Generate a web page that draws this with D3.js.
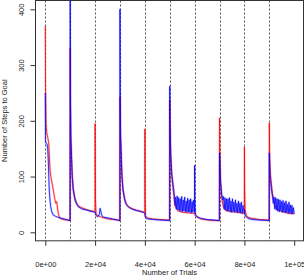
<!DOCTYPE html>
<html>
<head>
<meta charset="utf-8">
<script src="https://cdn.jsdelivr.net/npm/d3@7"></script>
<style>
  body { margin: 0; background: #fff; }
  svg { display: block; font-family: "Liberation Sans", Arial, sans-serif; }
</style>
</head>
<body>
<div id="chart"></div>
<script>
// trial boundaries where the goal moves
const boundaries = [0, 10000, 20000, 30000, 40000, 50000, 60000, 70000, 80000, 90000];
const xTicks = [0, 20000, 40000, 60000, 80000, 100000];
const xTickLabels = ["0e+00", "2e+04", "4e+04", "6e+04", "8e+04", "1e+05"];
const yTicks = [0, 100, 200, 300, 400];

// [trial, steps]
const redSeries = [
  [0,370],[100,260],[300,195],[600,178],[1000,170],[1370,160],[1650,135],[1890,112],[2300,98],[2800,86],
  [3210,76],[3600,65],[3900,58],[4200,52],[4580,55],[4900,44],[5220,34],[5600,28],[5900,25],[7000,23],[8500,22],[9950,21],
  [10000,330],[10100,240],[10250,175],[10560,135],[10800,105],[11200,80],[11900,62],[12500,54],[13200,48],[14200,45],
  [15200,43],[16500,41],[17900,39],[19000,38],[19950,37],
  [20000,195],[20150,60],[20400,33],[21000,30],[22000,28],[23500,26],[25000,24],[27000,23],[29000,22],[29950,21],
  [30000,243],[30100,210],[30250,170],[30560,132],[30800,102],[31200,78],[31900,60],[32500,52],[33200,47],[34200,44],
  [35200,42],[36500,40],[37900,38],[39000,37],[39950,36],
  [40000,185],[40100,60],[40300,30],[41000,26],[43000,24],[46000,23],[49950,22],
  [50000,237],[50100,190],[50400,135],[50800,100],[51500,72],[52000,50],[52600,42],[53500,38],[55000,36],[57000,35],[59950,34],
  [60000,35],[60300,30],[61000,27],[62500,24],[65000,22],[68000,21],[69950,21],
  [70000,205],[70150,150],[70400,95],[70880,61],[71480,46],[72200,40],[73500,38],[75000,37],[77000,36],[79950,34],
  [80000,153],[80100,80],[80300,40],[80800,30],[81500,27],[83000,25],[86000,23],[89950,22],
  [90000,196],[90150,140],[90400,105],[90800,89],[91200,70],[91600,61],[92200,48],[93000,42],[94500,38],[96000,36],[98000,34],[100000,33]
];

const blueSeries = [
  [0,250],[80,165],[300,160],[700,158],[950,150],[1200,130],[1400,100],[1600,76],[1900,57],[2170,46],[2600,37],
  [3210,31],[4000,29],[5000,27],[5900,26],[7500,24],[9240,22],[9950,21],
  [10000,430],[10100,250],[10250,170],[10560,130],[10800,100],[11200,76],[11900,58],[12500,51],[13200,46],[14200,43],
  [15200,41],[16500,40],[17900,38],[19000,37],[19950,36],
  [20000,36],[20400,30],[21000,28],[21700,32],[22000,43],[22300,38],[22700,30],[23500,27],[25000,26],[27000,24],[29000,22],[29950,21],
  [30000,400],[30100,260],[30250,175],[30560,130],[30800,100],[31200,76],[31900,58],[32500,50],[33200,46],[34200,43],
  [35200,41],[36500,39],[37900,38],[39000,36],[39950,35],
  [40000,30],[40300,26],[41000,24],[43000,23],[46000,22],[49950,21],
  [50000,262],[50100,200],[50400,140],[50800,106],[51500,80],[51900,64],[52200,48],[52400,63],[52700,42],[53000,65],
  [53300,40],[53600,62],[53900,39],[54200,60],[54500,38],[54800,64],[55100,37],[55400,58],[55700,38],[56000,63],
  [56300,37],[56600,56],[56900,36],[57200,61],[57500,37],[57800,58],[58100,36],[58400,60],[58700,35],[59000,55],
  [59300,36],[59600,58],[59950,36],
  [60000,120],[60080,60],[60300,32],[61000,28],[62500,25],[65000,23],[68000,22],[69950,21],
  [70000,142],[70150,120],[70400,90],[70880,68],[71300,58],[71600,64],[71900,42],[72200,62],[72500,40],[72800,60],
  [73100,38],[73400,60],[73700,39],[74000,62],[74300,37],[74600,56],[74900,36],[75200,60],[75500,38],[75800,54],
  [76100,36],[76400,58],[76700,37],[77000,52],[77300,35],[77600,56],[77900,36],[78200,52],[78500,35],[78800,54],
  [79100,34],[79400,48],[79950,35],
  [80000,40],[80200,32],[80600,28],[81500,25],[83000,23],[86000,22],[89950,21],
  [90000,142],[90150,120],[90400,95],[90800,80],[91300,64],[91600,52],[91900,63],[92200,42],[92500,62],[92800,40],
  [93100,60],[93400,38],[93700,59],[94000,37],[94300,58],[94600,39],[94900,55],[95200,36],[95500,57],[95800,37],
  [96100,53],[96400,35],[96700,56],[97000,36],[97300,50],[97600,34],[97900,54],[98200,35],[98500,49],[98800,33],
  [99100,48],[99400,34],[99700,44],[100000,33]
];

const width = 304, height = 277;
const box = { left: 35.5, right: 303.5, top: 0.5, bottom: 240.8 };

const svg = d3.select('#chart').append('svg')
    .attr('width', width)
    .attr('height', height);

const x = d3.scaleLinear().domain([0, 100000]).range([45.3, 294.2]);
const y = d3.scaleLinear().domain([0, 400]).range([232.3, 9.3]);

svg.append('clipPath').attr('id', 'plotclip')
  .append('rect')
    .attr('x', box.left).attr('y', box.top)
    .attr('width', box.right - box.left).attr('height', box.bottom - box.top);

// dashed lines at each goal change
svg.append('g').selectAll('line')
  .data(boundaries)
  .enter().append('line')
    .attr('x1', d => Math.round(x(d)) + 0.5)
    .attr('x2', d => Math.round(x(d)) + 0.5)
    .attr('y1', box.top)
    .attr('y2', box.bottom)
    .attr('stroke', '#555')
    .attr('stroke-width', 1)
    .attr('stroke-dasharray', '2,2');

const line = d3.line()
    .x(d => x(d[0]))
    .y(d => y(d[1]));

const plot = svg.append('g').attr('clip-path', 'url(#plotclip)');

[[redSeries, '#ff0000'], [blueSeries, '#0000ff']].forEach(([data, color]) => {
    plot.append('path')
        .attr('d', line(data))
        .attr('fill', 'none')
        .attr('stroke', color)
        .attr('stroke-opacity', 0.18)
        .attr('stroke-width', 2.2)
        .attr('stroke-linejoin', 'round');
    plot.append('path')
        .attr('d', line(data))
        .attr('fill', 'none')
        .attr('stroke', color)
        .attr('stroke-opacity', 0.85)
        .attr('stroke-width', 0.9)
        .attr('stroke-linejoin', 'round');
});

// box
svg.append('rect')
    .attr('x', box.left).attr('y', box.top)
    .attr('width', box.right - box.left).attr('height', box.bottom - box.top)
    .attr('fill', 'none')
    .attr('stroke', '#333')
    .attr('stroke-width', 1);

// axes
const xAxis = d3.axisBottom(x)
    .tickValues(xTicks)
    .tickSize(5)
    .tickFormat((d, i) => xTickLabels[i]);

const gx = svg.append('g')
    .attr('transform', `translate(0, ${box.bottom})`)
    .call(xAxis);
gx.select('.domain').remove();
gx.selectAll('.tick line').attr('stroke', '#333');
gx.selectAll('.tick text')
    .attr('font-size', '7.5px')
    .attr('fill', '#222')
    .attr('font-family', '"Liberation Sans", Arial, sans-serif')
    .attr('y', 26)
    .attr('dy', '0');

const yAxis = d3.axisLeft(y)
    .tickValues(yTicks)
    .tickSize(5)
    .tickFormat(d3.format('d'));

const gy = svg.append('g')
    .attr('transform', `translate(${box.left}, 0)`)
    .call(yAxis);
gy.select('.domain').remove();
gy.selectAll('.tick line').attr('stroke', '#333');
gy.selectAll('.tick text')
    .attr('font-size', '7.5px')
    .attr('fill', '#222')
    .attr('font-family', '"Liberation Sans", Arial, sans-serif')
    .attr('x', 0)
    .attr('dy', '0')
    .attr('text-anchor', 'middle')
    .attr('dominant-baseline', 'central')
    .attr('transform', 'translate(-13.8, 0) rotate(-90)');

// axis titles
svg.append('text')
    .attr('x', (box.left + box.right) / 2)
    .attr('y', 275)
    .attr('text-anchor', 'middle')
    .attr('font-size', '7.5px')
    .attr('fill', '#222')
    .text('Number of Trials');

svg.append('text')
    .attr('transform', `translate(6.5, ${(box.top + box.bottom) / 2}) rotate(-90)`)
    .attr('text-anchor', 'middle')
    .attr('font-size', '7.5px')
    .attr('fill', '#222')
    .text('Number of Steps to Goal');
</script>
</body>
</html>
